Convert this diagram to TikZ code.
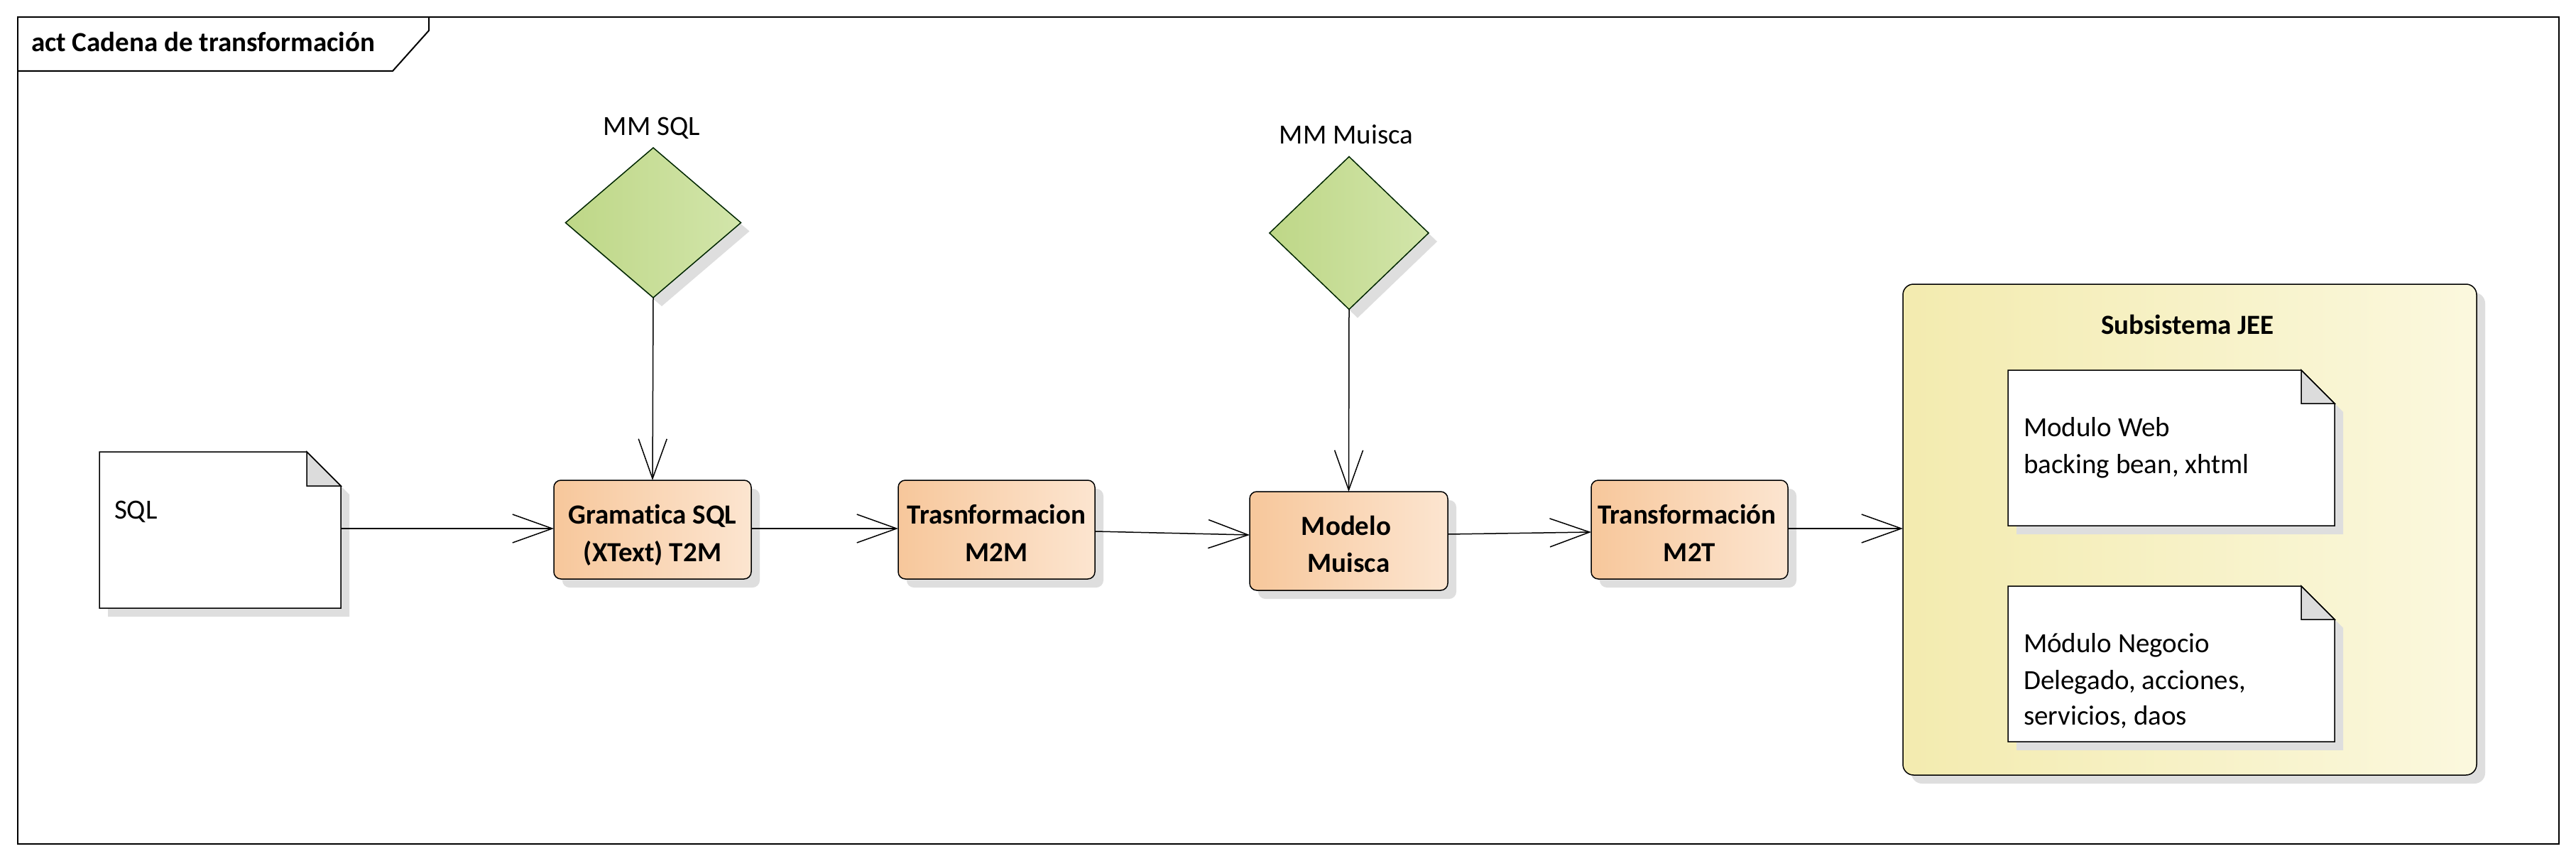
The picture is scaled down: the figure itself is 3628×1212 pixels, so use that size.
\documentclass[tikz,border=0pt]{standalone}
\usepackage{fontspec}
\setmainfont{Carlito}[Ligatures=NoCommon]
\usetikzlibrary{shapes.geometric,arrows.meta,shadows}
\definecolor{grL}{RGB}{190,215,135}
\definecolor{grR}{RGB}{210,229,170}
\definecolor{orL}{RGB}{247,199,155}
\definecolor{orR}{RGB}{252,229,208}
\definecolor{yeL}{RGB}{243,235,175}
\definecolor{yeR}{RGB}{251,248,222}
\definecolor{shadowgray}{RGB}{222,222,222}
\definecolor{foldgray}{RGB}{220,220,220}
\begin{document}
\begin{tikzpicture}[x=1pt,y=-1pt,
  every node/.style={inner sep=0pt, outer sep=0pt},
  txt/.style={font=\fontsize{39}{52}\selectfont, anchor=base},
  ltxt/.style={font=\fontsize{39}{52}\selectfont, anchor=base west},
  btxt/.style={font=\fontsize{39}{52}\selectfont\bfseries, anchor=base},
  shd/.style={drop shadow={shadow xshift=12pt, shadow yshift=-12pt, fill=shadowgray, opacity=1}},
  proc/.style={draw=black, line width=1.5pt, rounded corners=10pt, left color=orL, right color=orR, shd},
  mm/.style={diamond, draw=black!85!green, line width=1.5pt, left color=grL, right color=grR, shd},
  noteshape/.style={fill=white, draw=black, line width=1.5pt, shd},
  fold/.style={fill=foldgray, draw=black, line width=1.5pt},
  flow/.style={line width=1.5pt, -{Straight Barb[length=56pt, width=40pt, line width=1.5pt]}},
]
\useasboundingbox (0,0) rectangle (3628,1212);
\fill[white] (0,0) rectangle (3628,1212);

% frame
\draw[line width=2pt] (24.5,24) rectangle (3604,1188);
\draw[line width=2pt] (24.5,100) -- (553,100) -- (604,43) -- (604,24);
\node[font=\fontsize{39}{52}\selectfont\bfseries, anchor=base west] (title) at (44,73) {act Cadena de transformación};

% metamodels
\node[mm, minimum width=247pt, minimum height=211pt] (mmsql) at (920,313.5) {};
\node[txt] (mmsqllbl) at (918,190) {MM SQL};
\node[mm, minimum width=224pt, minimum height=215pt] (mmmu) at (1900,328) {};
\node[txt] (mmmulbl) at (1896,202) {MM Muisca};

% SQL note
\node[minimum width=340pt, minimum height=220pt] (sql) at (310,746) {};
\path[noteshape] (sql.north west) -- ([xshift=-48pt]sql.north east) -- ([yshift=-48pt]sql.north east) -- (sql.south east) -- (sql.south west) -- cycle;
\path[fold] ([xshift=-48pt]sql.north east) -- ([xshift=-48pt,yshift=-48pt]sql.north east) -- ([yshift=-48pt]sql.north east) -- cycle;
\node[ltxt] (sqltxt) at (161,730) {SQL};

% process boxes
\node[proc, minimum width=278pt, minimum height=139pt] (gram) at (919,745.5) {};
\node[btxt] (gram1) at (919,737) {Gramatica SQL};
\node[btxt] (gram2) at (919,790) {(XText) T2M};

\node[proc, minimum width=277pt, minimum height=139pt] (m2m) at (1403.5,745.5) {};
\node[btxt] (m2m1) at (1403.5,737) {Trasnformacion};
\node[btxt] (m2m2) at (1403.5,790) {M2M};

\node[proc, minimum width=279pt, minimum height=139pt] (modelo) at (1899.5,761.5) {};
\node[btxt] (modelo1) at (1896,753) {Modelo};
\node[btxt] (modelo2) at (1899.5,805) {Muisca};

\node[proc, minimum width=277pt, minimum height=139pt] (m2t) at (2379.5,745.5) {};
\node[btxt] (m2t1) at (2376,737) {Transformación};
\node[btxt] (m2t2) at (2379.5,790) {M2T};

% JEE subsystem
\node[draw=black, line width=1.5pt, rounded corners=15pt, left color=yeL, right color=yeR, shd,
      minimum width=808pt, minimum height=691pt] (jee) at (3084,745.5) {};
\node[btxt] (jeetitle) at (3081,470) {Subsistema JEE};

\node[minimum width=460pt, minimum height=219pt] (web) at (3058,630.5) {};
\path[noteshape] (web.north west) -- ([xshift=-47pt]web.north east) -- ([yshift=-47pt]web.north east) -- (web.south east) -- (web.south west) -- cycle;
\path[fold] ([xshift=-47pt]web.north east) -- ([xshift=-47pt,yshift=-47pt]web.north east) -- ([yshift=-47pt]web.north east) -- cycle;
\node[ltxt] (web1) at (2850,614) {Modulo Web};
\node[ltxt] (web2) at (2850,666) {backing bean, xhtml};

\node[minimum width=460pt, minimum height=219pt] (neg) at (3058,934.5) {};
\path[noteshape] (neg.north west) -- ([xshift=-47pt]neg.north east) -- ([yshift=-47pt]neg.north east) -- (neg.south east) -- (neg.south west) -- cycle;
\path[fold] ([xshift=-47pt]neg.north east) -- ([xshift=-47pt,yshift=-47pt]neg.north east) -- ([yshift=-47pt]neg.north east) -- cycle;
\node[ltxt] (neg1) at (2850,918) {Módulo Negocio};
\node[ltxt] (neg2) at (2850,970) {Delegado, acciones,};
\node[ltxt] (neg3) at (2850,1020) {servicios, daos};

% connectors
\draw[flow] ([yshift=2pt]sql.east) -- ([yshift=1.5pt]gram.west);
\draw[flow] ([yshift=1.5pt]gram.east) -- ([yshift=1.5pt]m2m.west);
\draw[flow] ([yshift=-2.5pt]m2m.east) -- ([yshift=8.5pt]modelo.west);
\draw[flow] ([yshift=9.5pt]modelo.east) -- ([yshift=-3.5pt]m2t.west);
\draw[flow] ([yshift=1.5pt]m2t.east) -- ([yshift=1.5pt]jee.west);
\draw[flow] (mmsql.south) -- (gram.north);
\draw[flow] (mmmu.south) -- (modelo.north);
\end{tikzpicture}
\end{document}
